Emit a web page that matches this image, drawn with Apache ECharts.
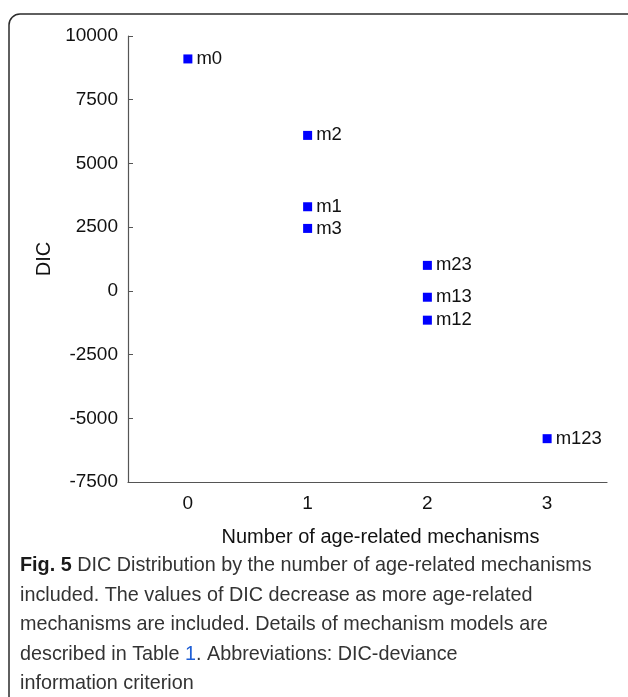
<!DOCTYPE html>
<html>
<head>
<meta charset="utf-8">
<script src="https://cdn.jsdelivr.net/npm/echarts@6/dist/echarts.min.js"></script>
<style>
  html, body { margin: 0; padding: 0; background: #fff; }
  #main { width: 628px; height: 697px; }
</style>
</head>
<body>
<div id="main"></div>
<script>
// data
var xCats = ['0', '1', '2', '3'];
var modelNames = ['m0', 'm2', 'm1', 'm3', 'm23', 'm13', 'm12', 'm123'];
var modelCount = [0, 1, 1, 1, 2, 2, 2, 3];
var dicValues = [9100, 6100, 3300, 2450, 1000, -250, -1150, -5800];
var yTicks = [-7500, -5000, -2500, 0, 2500, 5000, 7500, 10000];

var captionLines = [
  '{b|Fig. 5} DIC Distribution by the number of age-related mechanisms',
  'included. The values of DIC decrease as more age-related',
  'mechanisms are included. Details of mechanism models are',
  'described in Table {blue|1}. Abbreviations: DIC-deviance',
  'information criterion'
];

var myChart = echarts.init(document.getElementById('main'));

var points = [];
for (var i = 0; i < modelNames.length; i++) {
  points.push({ value: [modelCount[i], dicValues[i]], name: modelNames[i] });
}

var axisCol = '#555';
var textCol = '#111';
var font = '"Liberation Sans", Arial, sans-serif';
var capSize = 19.8;

// 边框 + 图注
var graphics = [{
  type: 'rect',
  shape: { x: 9, y: 14, width: 660, height: 720, r: [11, 0, 0, 0] },
  style: { fill: 'none', stroke: '#2b2b2b', lineWidth: 1.5 },
  silent: true
}];
for (var j = 0; j < captionLines.length; j++) {
  graphics.push({
    type: 'text',
    x: 20,
    y: 566 + j * 29.5,
    style: {
      text: captionLines[j],
      fontFamily: font,
      fontSize: capSize,
      fill: '#333',
      verticalAlign: 'middle',
      rich: {
        b: { fontWeight: 'bold', fontSize: capSize, fontFamily: font, fill: '#1a1a1a' },
        blue: { fontSize: capSize, fontFamily: font, fill: '#1f5fd6' }
      }
    }
  });
}

var option = {
  animation: false,
  backgroundColor: '#fff',
  grid: { left: 128, right: 21, top: 36, bottom: 215 },
  xAxis: {
    type: 'category',
    data: xCats,
    boundaryGap: true,
    name: 'Number of age-related mechanisms',
    nameLocation: 'middle',
    nameGap: 45,
    nameTextStyle: { fontFamily: font, fontSize: 20, color: textCol, padding: [0, 0, 0, 26] },
    axisLine: { onZero: false, lineStyle: { color: axisCol, width: 1.2 } },
    axisTick: { alignWithLabel: true, inside: true, length: 5, lineStyle: { color: axisCol } },
    axisLabel: { fontFamily: font, fontSize: 19, color: textCol, margin: 12 },
    splitLine: { show: false }
  },
  yAxis: {
    type: 'value',
    min: yTicks[0],
    max: yTicks[yTicks.length - 1],
    interval: 2500,
    name: 'DIC',
    nameLocation: 'middle',
    nameGap: 74,
    nameRotate: 90,
    nameTextStyle: { fontFamily: font, fontSize: 20, color: textCol },
    axisLine: { show: true, lineStyle: { color: axisCol, width: 1.2 } },
    axisTick: { show: true, inside: true, length: 5, lineStyle: { color: axisCol } },
    axisLabel: {
      fontFamily: font, fontSize: 19, color: textCol, margin: 10,
      formatter: function (v) { return String(v); }
    },
    splitLine: { show: false }
  },
  series: [{
    type: 'scatter',
    symbol: 'rect',
    symbolSize: 9,
    itemStyle: { color: '#0000ff', opacity: 1 },
    label: {
      show: true,
      position: 'right',
      distance: 4,
      formatter: '{b}',
      fontFamily: font,
      fontSize: 18.5,
      color: textCol
    },
    data: points
  }],
  graphic: graphics
};

myChart.setOption(option);
</script>
</body>
</html>
